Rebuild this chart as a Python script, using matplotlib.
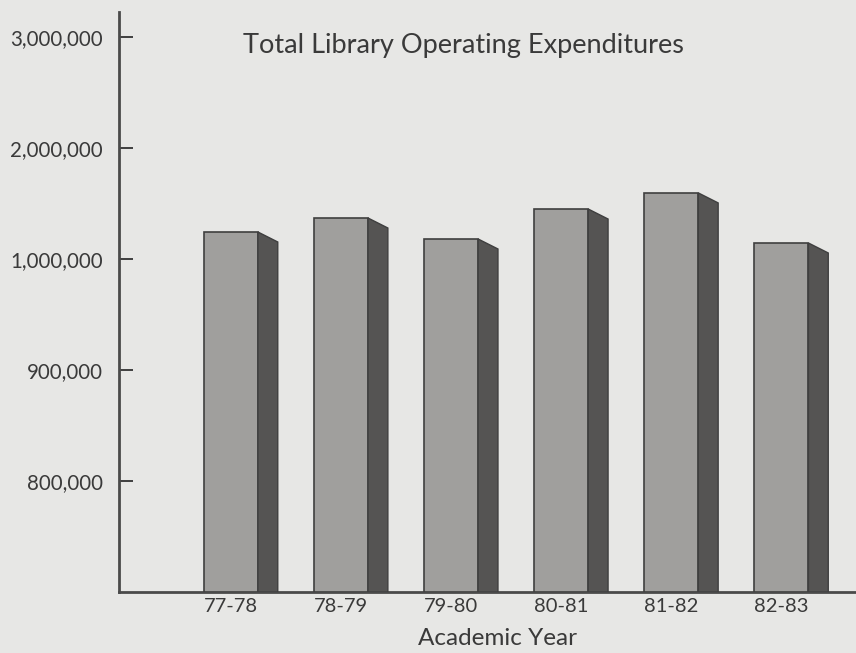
import numpy as np
import matplotlib
matplotlib.use("Agg")
import matplotlib.pyplot as plt
from matplotlib.patches import Polygon

# Data
years = ["77-78", "78-79", "79-80", "80-81", "81-82", "82-83"]
expenditures = [1243000, 1369000, 1180000, 1450000, 1595000, 1144000]

# Broken (piecewise) y axis: equal spacing between these values
scale_values = [700000, 800000, 900000, 1000000, 2000000, 3000000, 4000000]
scale_pos = [0, 1, 2, 3, 4, 5, 6]
tick_values = [800000, 900000, 1000000, 2000000, 3000000]
tick_labels = ["800,000", "900,000", "1,000,000", "2,000,000", "3,000,000"]


def forward(v):
    return np.interp(v, scale_values, scale_pos)


def inverse(p):
    return np.interp(p, scale_pos, scale_values)


bg = "#e7e7e5"
front_color = "#a09f9d"
side_color = "#555453"
edge_color = "#3f3f3f"
text_color = "#3a3a3a"

fig = plt.figure(figsize=(8.56, 6.53), dpi=100, facecolor=bg)
ax = fig.add_axes([119 / 856, 1 - 592 / 653, 1 - 119 / 856, 580 / 653])
ax.set_facecolor(bg)
ax.set_yscale("function", functions=(forward, inverse))

base = scale_values[0]
x = np.arange(len(years))
width = 0.49
depth = 0.18
drop = 0.09

heights = [v - base for v in expenditures]
ax.bar(x, heights, bottom=base, width=width, color=front_color,
       edgecolor=edge_color, linewidth=1.2, zorder=3)

# shaded side faces give the bars a 3-D look
for xi, v in zip(x, expenditures):
    xr = xi + width / 2
    top2 = inverse(forward(v) - drop)
    side = Polygon([(xr, base), (xr, v), (xr + depth, top2), (xr + depth, base)],
                   closed=True, facecolor=side_color, edgecolor=edge_color,
                   linewidth=1.0, zorder=3)
    ax.add_patch(side)

ax.set_xlim(-1.017, 5.677)
ax.set_ylim(base, inverse(5.225))

ax.set_yticks(tick_values)
ax.set_yticklabels(tick_labels)
ax.set_xticks(x)
ax.set_xticklabels(years)

ax.tick_params(axis="y", direction="in", length=10, width=1.4, color=edge_color,
               labelsize=14.8, labelcolor=text_color, pad=11.5)
ax.tick_params(axis="x", length=0, labelsize=14.5, labelcolor=text_color, pad=4)
for lab in ax.get_yticklabels() + ax.get_xticklabels():
    lab.set_family("Lato")

for s in ["top", "right"]:
    ax.spines[s].set_visible(False)
for s in ["left", "bottom"]:
    ax.spines[s].set_color("#4a4a4a")
    ax.spines[s].set_linewidth(2)

fig.text(463 / 856, 1 - 53 / 653, "Total Library Operating Expenditures",
         ha="center", va="baseline", fontsize=19.5, color=text_color, family="Lato")
fig.text(498 / 856, 1 - 645 / 653, "Academic Year",
         ha="center", va="baseline", fontsize=17.5, color=text_color, family="Lato")

fig.savefig("out.png", dpi=100, facecolor=bg)
